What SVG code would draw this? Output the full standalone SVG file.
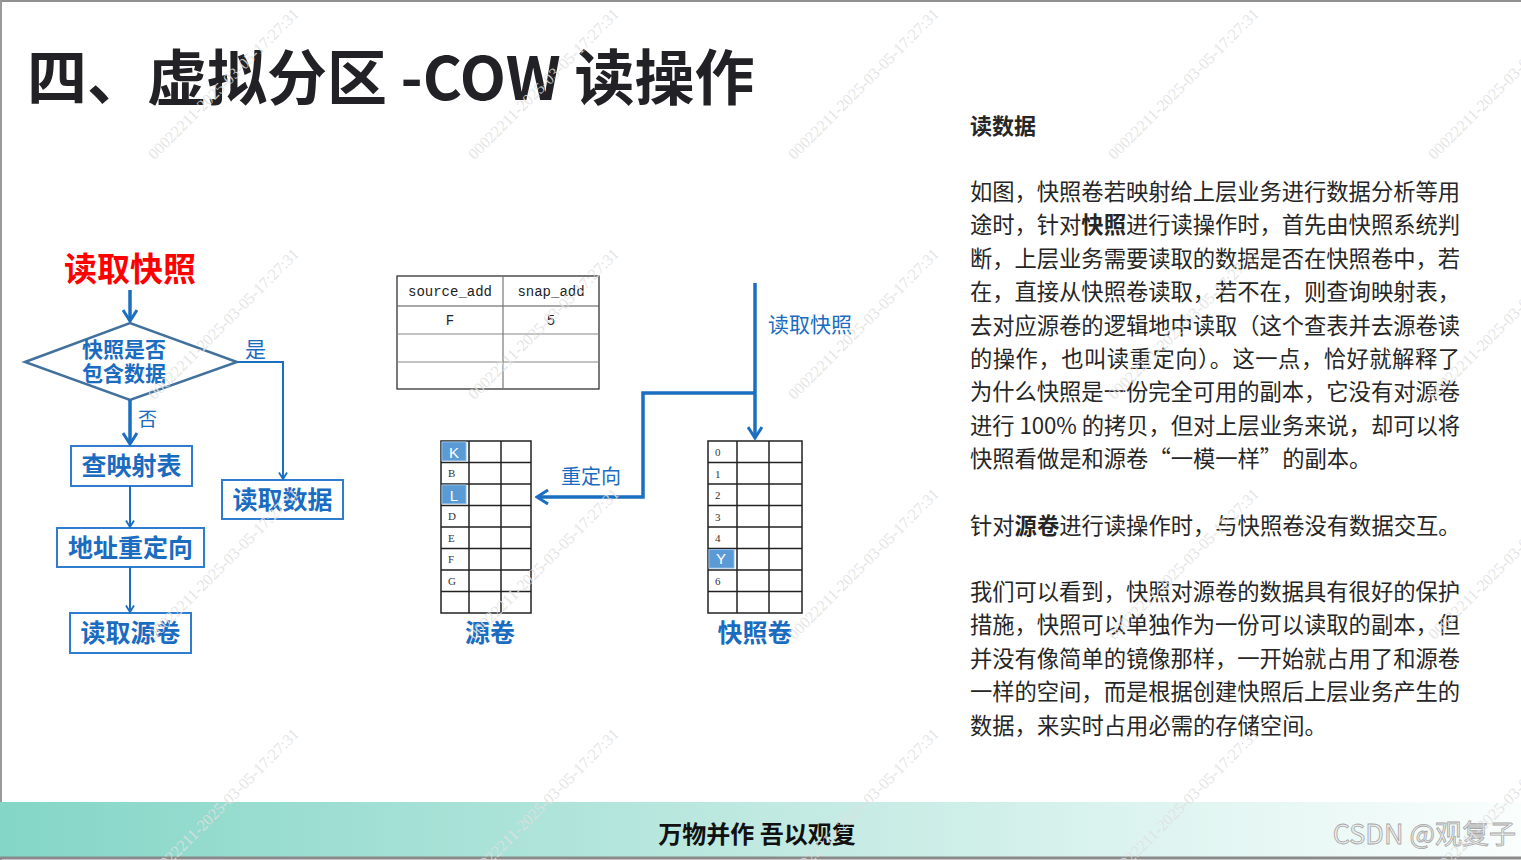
<svg xmlns="http://www.w3.org/2000/svg" width="1521" height="860" viewBox="0 0 1521 860">
<defs>
<linearGradient id="barGrad" x1="0" y1="0" x2="1" y2="0">
<stop offset="0" stop-color="#84d6c7"/>
<stop offset="0.5" stop-color="#bfe9e1"/>
<stop offset="1" stop-color="#fafefd"/>
</linearGradient>
<marker id="arrThick" viewBox="0 0 14 16" refX="12" refY="8" markerWidth="14" markerHeight="16" markerUnits="userSpaceOnUse" orient="auto">
<path d="M1,1 L12,8 L1,15" fill="none" stroke="#1a6fc0" stroke-width="3"/>
</marker>
<marker id="arrThin" viewBox="0 0 9 10" refX="7.5" refY="5" markerWidth="9" markerHeight="10" markerUnits="userSpaceOnUse" orient="auto">
<path d="M1,1 L7.5,5 L1,9" fill="none" stroke="#1a6fc0" stroke-width="1.8"/>
</marker>
<style>
.cjk{font-family:"Noto Sans CJK SC","Noto Sans",sans-serif}
.title{font-size:60px;font-weight:bold;fill:#222226}
.blue{fill:#1a6cc0}
.fb{font-weight:bold}
.box{fill:#ffffff;stroke:#2e7dd1;stroke-width:2}
.grid{fill:#ffffff;stroke:#222;stroke-width:1.5}
.gl{stroke:#222;stroke-width:1.5;fill:none}
.cell{fill:#5b9bd5;stroke:#8dbbe6;stroke-width:1}
.cl{font-family:"Liberation Serif",serif;font-size:11px;fill:#333}
.cw{font-family:"Liberation Sans",sans-serif;font-size:15px;fill:#ffffff;text-anchor:middle}
.tb{font-family:"Liberation Mono",monospace;font-size:14px;fill:#222;text-anchor:middle}
.body{font-size:22.3px;fill:#262626}
.thick{fill:none;stroke:#1a6fc0;stroke-width:3.5}
.thin{fill:none;stroke:#1a6fc0;stroke-width:2}
.wm{font-family:"Liberation Serif",serif;font-size:16px;fill:#e0e0e0;fill-opacity:0.85;text-anchor:end}
</style>
</defs>

<rect x="0" y="0" width="1521" height="860" fill="#ffffff"/>
<line x1="0" y1="1" x2="1521" y2="1" stroke="#8f8f8f" stroke-width="2"/>
<line x1="1" y1="0" x2="1" y2="860" stroke="#9a9a9a" stroke-width="2"/>

<text class="cjk title" x="27" y="100">四、虚拟分区 -COW 读操作</text>

<g id="flow-start"><text class="cjk fb" x="130" y="281" font-size="33" fill="#ff0000" text-anchor="middle">读取快照</text></g>

<g id="decision">
<polygon points="25,362 130,323 237,362 130,400" fill="#ffffff" stroke="#41719c" stroke-width="2.5"/>
<text class="cjk fb blue" x="124" y="356.5" font-size="21" text-anchor="middle">快照是否</text>
<text class="cjk fb blue" x="124" y="381" font-size="21" text-anchor="middle">包含数据</text>
</g>

<g id="lookup-map"><rect class="box" x="71" y="446" width="121" height="40"/>
<text class="cjk fb blue" x="131.5" y="474.5" font-size="25" text-anchor="middle">查映射表</text></g>

<g id="read-data"><rect class="box" x="222" y="480" width="121" height="39"/>
<text class="cjk fb blue" x="282.5" y="508.5" font-size="25" text-anchor="middle">读取数据</text></g>

<g id="redirect"><rect class="box" x="57" y="528" width="147" height="39"/>
<text class="cjk fb blue" x="130.5" y="556.5" font-size="25" text-anchor="middle">地址重定向</text></g>

<g id="read-source"><rect class="box" x="70" y="613" width="121" height="40"/>
<text class="cjk fb blue" x="130.5" y="642" font-size="25" text-anchor="middle">读取源卷</text></g>

<g id="map-table">
<rect x="397" y="276" width="202" height="113" fill="#ffffff" stroke="#333" stroke-width="1.3"/>
<line x1="397" y1="306" x2="599" y2="306" stroke="#555" stroke-width="1.2"/>
<line x1="397" y1="334" x2="599" y2="334" stroke="#888" stroke-width="1.2"/>
<line x1="397" y1="362" x2="599" y2="362" stroke="#888" stroke-width="1.2"/>
<line x1="503" y1="276" x2="503" y2="389" stroke="#777" stroke-width="1.2"/>
<text class="tb" x="450" y="296">source_add</text>
<text class="tb" x="551" y="296">snap_add</text>
<text class="tb" x="450" y="325">F</text>
<text class="tb" x="551" y="325">5</text>
</g>

<g id="source-volume">
<rect class="grid" x="441" y="441" width="90" height="172"/>
<path class="gl" d="M469,441V613M501,441V613M441,462.5H531M441,484H531M441,505.5H531M441,527H531M441,548.5H531M441,570H531M441,591.5H531"/>
<rect class="cell" x="442" y="442" width="24" height="18.5"/>
<rect class="cell" x="442" y="485" width="24" height="18.5"/>
<text class="cw" x="454" y="457.5">K</text>
<text class="cl" x="448" y="477">B</text>
<text class="cw" x="454" y="500.5">L</text>
<text class="cl" x="448" y="520">D</text>
<text class="cl" x="448" y="541.5">E</text>
<text class="cl" x="448" y="563">F</text>
<text class="cl" x="448" y="584.5">G</text>
<text class="cjk fb blue" x="490" y="642" font-size="25" text-anchor="middle">源卷</text>
</g>

<g id="snapshot-volume">
<rect class="grid" x="708" y="441" width="94" height="172"/>
<path class="gl" d="M737,441V613M769,441V613M708,462.5H802M708,484H802M708,505.5H802M708,527H802M708,548.5H802M708,570H802M708,591.5H802"/>
<rect class="cell" x="709" y="549.5" width="25" height="18.5"/>
<text class="cl" x="715" y="456">0</text>
<text class="cl" x="715" y="477.5">1</text>
<text class="cl" x="715" y="499">2</text>
<text class="cl" x="715" y="520.5">3</text>
<text class="cl" x="715" y="542">4</text>
<text class="cw" x="721" y="564">Y</text>
<text class="cl" x="715" y="585">6</text>
<text class="cjk fb blue" x="755" y="642" font-size="25" text-anchor="middle">快照卷</text>
</g>

<g id="connectors">
<path class="thick" d="M130,290V321" marker-end="url(#arrThick)"/>
<path class="thick" d="M130,400V444" marker-end="url(#arrThick)"/>
<path class="thin" d="M237,362H283V479" marker-end="url(#arrThin)"/>
<path class="thin" d="M130,486V527" marker-end="url(#arrThin)"/>
<path class="thin" d="M130,567V612" marker-end="url(#arrThin)"/>
<path class="thick" d="M755,283V438" marker-end="url(#arrThick)"/>
<path class="thick" d="M755,393H643V497H537" marker-end="url(#arrThick)"/>
<text class="cjk blue" x="245" y="356.5" font-size="21">是</text>
<text class="cjk blue" x="138" y="425.5" font-size="19">否</text>
<text class="cjk blue" x="768" y="332" font-size="21">读取快照</text>
<text class="cjk blue" x="561" y="484" font-size="20">重定向</text>
</g>

<g id="description" class="cjk body">
<text class="fb" x="970" y="134" font-size="22">读数据</text>
<text x="970" y="200" textLength="490" lengthAdjust="spacing">如图，快照卷若映射给上层业务进行数据分析等用</text>
<text x="970" y="233.4" textLength="490" lengthAdjust="spacing">途时，针对<tspan font-weight="bold">快照</tspan>进行读操作时，首先由快照系统判</text>
<text x="970" y="266.8" textLength="490" lengthAdjust="spacing">断，上层业务需要读取的数据是否在快照卷中，若</text>
<text x="970" y="300.2" textLength="490" lengthAdjust="spacing">在，直接从快照卷读取，若不在，则查询映射表，</text>
<text x="970" y="333.6" textLength="490" lengthAdjust="spacing">去对应源卷的逻辑地中读取（这个查表并去源卷读</text>
<text x="970" y="367" textLength="490" lengthAdjust="spacing">的操作，也叫读重定向）。这一点，恰好就解释了</text>
<text x="970" y="400.4" textLength="490" lengthAdjust="spacing">为什么快照是一份完全可用的副本，它没有对源卷</text>
<text x="970" y="433.8" textLength="490" lengthAdjust="spacing">进行 100% 的拷贝，但对上层业务来说，却可以将</text>
<text x="970" y="467.2">快照看做是和源卷“一模一样”的副本。</text>
<text x="970" y="534">针对<tspan font-weight="bold">源卷</tspan>进行读操作时，与快照卷没有数据交互。</text>
<text x="970" y="600" textLength="490" lengthAdjust="spacing">我们可以看到，快照对源卷的数据具有很好的保护</text>
<text x="970" y="633.4" textLength="490" lengthAdjust="spacing">措施，快照可以单独作为一份可以读取的副本，但</text>
<text x="970" y="666.8" textLength="490" lengthAdjust="spacing">并没有像简单的镜像那样，一开始就占用了和源卷</text>
<text x="970" y="700.2" textLength="490" lengthAdjust="spacing">一样的空间，而是根据创建快照后上层业务产生的</text>
<text x="970" y="733.6">数据，来实时占用必需的存储空间。</text>
</g>

<g id="footer">
<rect x="0" y="802" width="1521" height="55" fill="url(#barGrad)"/>
<line x1="0" y1="858" x2="1521" y2="858" stroke="#8a8a8a" stroke-width="3"/>
<text class="cjk fb" x="757" y="843" font-size="24" fill="#111" text-anchor="middle">万物并作 吾以观复</text>
<text class="cjk" x="1516" y="844" font-size="27" fill="#efefef" stroke="#a5a5a5" stroke-width="0.8" text-anchor="end">CSDN @观复子</text>
</g>

<g id="watermarks">
<text class="wm" transform="translate(300,15) rotate(-45)">00022211-2025-03-05-17:27:31</text>
<text class="wm" transform="translate(620,15) rotate(-45)">00022211-2025-03-05-17:27:31</text>
<text class="wm" transform="translate(940,15) rotate(-45)">00022211-2025-03-05-17:27:31</text>
<text class="wm" transform="translate(1260,15) rotate(-45)">00022211-2025-03-05-17:27:31</text>
<text class="wm" transform="translate(1580,15) rotate(-45)">00022211-2025-03-05-17:27:31</text>
<text class="wm" transform="translate(300,255) rotate(-45)">00022211-2025-03-05-17:27:31</text>
<text class="wm" transform="translate(620,255) rotate(-45)">00022211-2025-03-05-17:27:31</text>
<text class="wm" transform="translate(940,255) rotate(-45)">00022211-2025-03-05-17:27:31</text>
<text class="wm" transform="translate(1260,255) rotate(-45)">00022211-2025-03-05-17:27:31</text>
<text class="wm" transform="translate(1580,255) rotate(-45)">00022211-2025-03-05-17:27:31</text>
<text class="wm" transform="translate(300,495) rotate(-45)">00022211-2025-03-05-17:27:31</text>
<text class="wm" transform="translate(620,495) rotate(-45)">00022211-2025-03-05-17:27:31</text>
<text class="wm" transform="translate(940,495) rotate(-45)">00022211-2025-03-05-17:27:31</text>
<text class="wm" transform="translate(1260,495) rotate(-45)">00022211-2025-03-05-17:27:31</text>
<text class="wm" transform="translate(1580,495) rotate(-45)">00022211-2025-03-05-17:27:31</text>
<text class="wm" transform="translate(300,735) rotate(-45)">00022211-2025-03-05-17:27:31</text>
<text class="wm" transform="translate(620,735) rotate(-45)">00022211-2025-03-05-17:27:31</text>
<text class="wm" transform="translate(940,735) rotate(-45)">00022211-2025-03-05-17:27:31</text>
<text class="wm" transform="translate(1260,735) rotate(-45)">00022211-2025-03-05-17:27:31</text>
<text class="wm" transform="translate(1580,735) rotate(-45)">00022211-2025-03-05-17:27:31</text>
</g>
</svg>
